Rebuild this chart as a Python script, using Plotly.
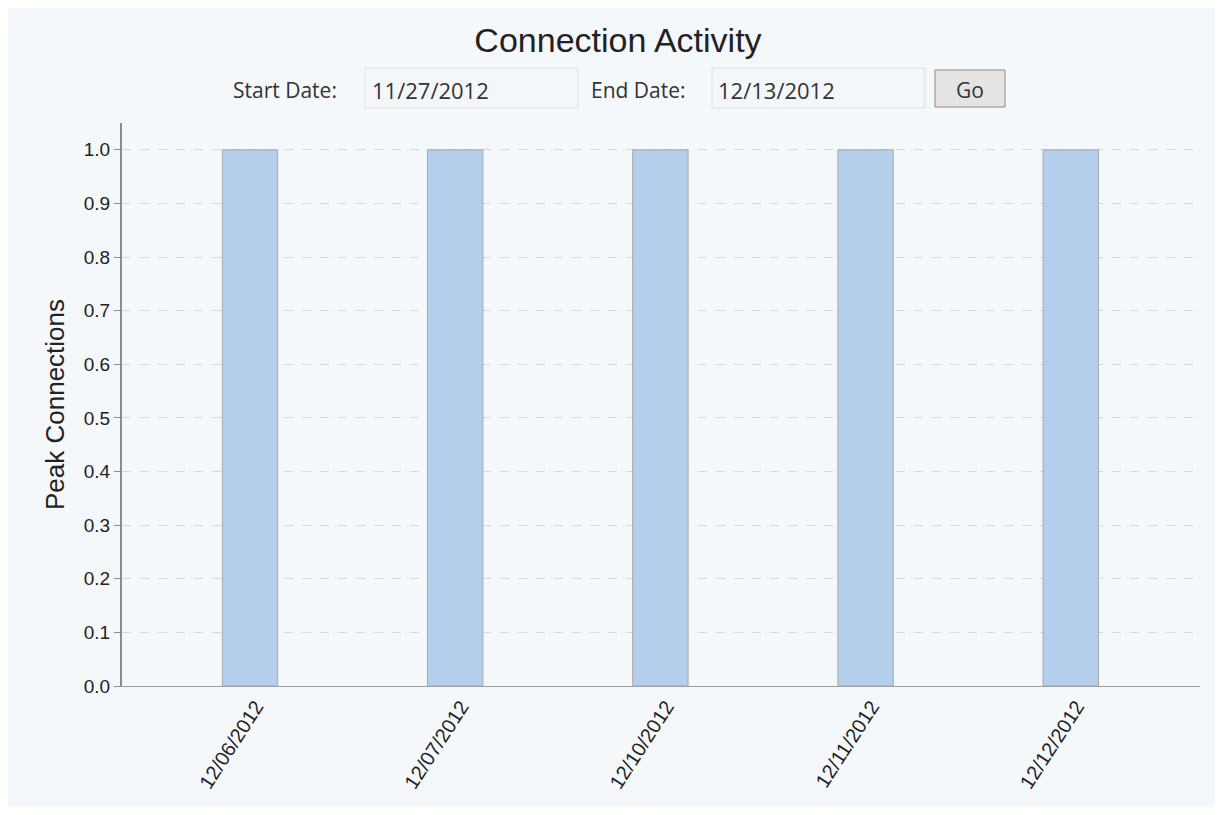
import plotly.graph_objects as go

categories = ["12/06/2012", "12/07/2012", "12/10/2012", "12/11/2012", "12/12/2012"]
peak_connections = [1, 1, 1, 1, 1]
y_ticks = [0.0, 0.1, 0.2, 0.3, 0.4, 0.5, 0.6, 0.7, 0.8, 0.9, 1.0]
start_date = "11/27/2012"
end_date = "12/13/2012"

W, H = 1207, 799
L, R, T, B = 114, 15, 115, 121
pw, ph = W - L - R, H - T - B

def px(x):
    return (x - L) / pw

def py(y):
    return (H - B - y) / ph

fig = go.Figure(go.Bar(
    x=list(range(len(categories))), y=peak_connections, width=0.27,
    marker=dict(color="#b3cfec", line=dict(color="#a8a8a8", width=1)),
))

shapes = [
    dict(type="rect", xref="paper", yref="paper", x0=px(357), x1=px(570), y0=py(100), y1=py(60),
         line=dict(color="#dcdfe3", width=1), fillcolor="#f4f7fa", layer="above"),
    dict(type="rect", xref="paper", yref="paper", x0=px(704), x1=px(917), y0=py(100), y1=py(60),
         line=dict(color="#dcdfe3", width=1), fillcolor="#f4f7fa", layer="above"),
    dict(type="rect", xref="paper", yref="paper", x0=px(927), x1=px(997), y0=py(99), y1=py(62),
         line=dict(color="#8a8a8a", width=1), fillcolor="#e4e4e4", layer="above"),
]
ann = [
    dict(text="Start Date:", x=px(331), y=py(82), xanchor="right", size=21),
    dict(text=start_date, x=px(362), y=py(82), xanchor="left", size=22),
    dict(text="End Date:", x=px(680), y=py(82), xanchor="right", size=21),
    dict(text=end_date, x=px(708), y=py(82), xanchor="left", size=22),
    dict(text="Go", x=px(962), y=py(82), xanchor="center", size=21),
]
annotations = []
for a in ann:
    a = dict(a)
    size = a.pop("size")
    annotations.append(dict(a, xref="paper", yref="paper", yanchor="middle", showarrow=False,
                            font=dict(family="Open Sans, Segoe UI, sans-serif", size=size, color="#333333")))

fig.update_layout(
    width=W, height=H,
    margin=dict(l=L, r=R, t=T, b=B),
    paper_bgcolor="#f5f8fb", plot_bgcolor="#f5f8fb",
    title=dict(text="Connection Activity", xref="container", x=610 / W, xanchor="center",
               y=1 - 32 / H, yanchor="middle",
               font=dict(family="Arial, Liberation Sans, sans-serif", size=34, color="#222222")),
    showlegend=False,
    shapes=shapes, annotations=annotations,
    xaxis=dict(tickmode="array", tickvals=list(range(len(categories))), ticktext=categories,
               tickangle=-57, ticklabelshift=6, range=[-0.624, 4.63], showgrid=False, showline=True,
               linecolor="#a0a0a0", linewidth=1, ticks="", zeroline=False,
               tickfont=dict(family="Arial, Liberation Sans, sans-serif", size=20, color="#222222")),
    yaxis=dict(range=[0, 1.05], tickmode="array", tickvals=y_ticks,
               ticktext=[f"{v:.1f}" for v in y_ticks], showgrid=True, gridcolor="#d4d8dc",
               griddash="dash", gridwidth=1, showline=True, linecolor="#8c8c8c", linewidth=2,
               ticks="outside", ticklen=6, tickcolor="#8c8c8c", zeroline=False,
               title=dict(text="Peak Connections", standoff=12,
                          font=dict(family="Arial, Liberation Sans, sans-serif", size=26, color="#222222")),
               tickfont=dict(family="Arial, Liberation Sans, sans-serif", size=19, color="#222222")),
)

fig.write_html("out.html")
